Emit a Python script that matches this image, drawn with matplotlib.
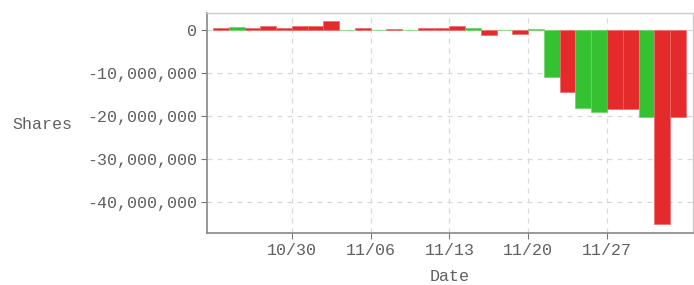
import matplotlib
matplotlib.use('Agg')
from matplotlib import pyplot as plt
from matplotlib.ticker import FuncFormatter

# business days shown on the x axis
dates = ['10/23', '10/24', '10/25', '10/26', '10/27',
         '10/30', '10/31', '11/01', '11/02', '11/03',
         '11/06', '11/07', '11/08', '11/09', '11/10',
         '11/13', '11/14', '11/15', '11/16', '11/17',
         '11/20', '11/21', '11/22', '11/23', '11/24',
         '11/27', '11/28', '11/29', '11/30', '12/01']
# shares, in millions
shares_m = [0.5, 0.7, 0.4, 1.0, 0.5,
            0.9, 0.9, 2.0, 0.1, 0.4,
            0.1, 0.3, 0.1, 0.4, 0.5,
            1.0, 0.4, -1.2, 0.1, -0.8,
            0.3, -11.0, -14.5, -18.2, -19.0,
            -18.4, -18.4, -20.2, -45.1, -20.2]
# r = red bar, g = green bar
signs = ['r', 'g', 'r', 'r', 'r',
         'r', 'r', 'r', 'g', 'r',
         'g', 'r', 'g', 'r', 'r',
         'r', 'g', 'r', 'g', 'r',
         'g', 'g', 'r', 'g', 'g',
         'r', 'r', 'g', 'r', 'r']
tick_dates = ['10/30', '11/06', '11/13', '11/20', '11/27']

palette = {'r': '#e42a2a', 'g': '#34c232'}
edges = {'r': '#ee6a6a', 'g': '#6ad46a'}
font = 'Liberation Mono'
txt_color = '#606060'

fig, ax = plt.subplots(figsize=(6.94, 2.85), dpi=100)
fig.subplots_adjust(left=0.298, right=0.9986, top=0.954, bottom=0.182)

x = list(range(len(dates)))
values = [v * 1e6 for v in shares_m]
ax.bar(x, values, width=1.0, align='edge',
       color=[palette[s] for s in signs],
       edgecolor=[edges[s] for s in signs], linewidth=0.5, zorder=3)

ax.set_xlim(-0.4, len(dates) + 0.46)
ax.set_ylim(-47.2e6, 3.95e6)

ax.set_xticks([dates.index(d) for d in tick_dates])
ax.set_xticklabels(tick_dates)
ax.set_yticks([0, -10e6, -20e6, -30e6, -40e6])
ax.yaxis.set_major_formatter(FuncFormatter(lambda v, p: '{:,.0f}'.format(v)))

ax.grid(True, linestyle=(0, (4, 4)), color='#d8d8d8', linewidth=0.9, zorder=0)

for lab in ax.get_xticklabels() + ax.get_yticklabels():
    lab.set_fontfamily(font)
    lab.set_fontsize(12)
    lab.set_color(txt_color)
ax.tick_params(axis='both', direction='out', length=4, color='#777777', pad=3)

for side in ['left', 'bottom']:
    ax.spines[side].set_color('#888888')
    ax.spines[side].set_linewidth(1.2)
for side in ['top', 'right']:
    ax.spines[side].set_color('#cccccc')
    ax.spines[side].set_linewidth(1.0)

ax.set_xlabel('Date', fontfamily=font, fontsize=12, color=txt_color, labelpad=8)
ax.set_ylabel('Shares', fontfamily=font, fontsize=12, color=txt_color,
              rotation=0, ha='right', va='center')
ax.yaxis.set_label_coords(-0.276, 0.495)

plt.savefig('out.png', dpi=100)
plt.close()
